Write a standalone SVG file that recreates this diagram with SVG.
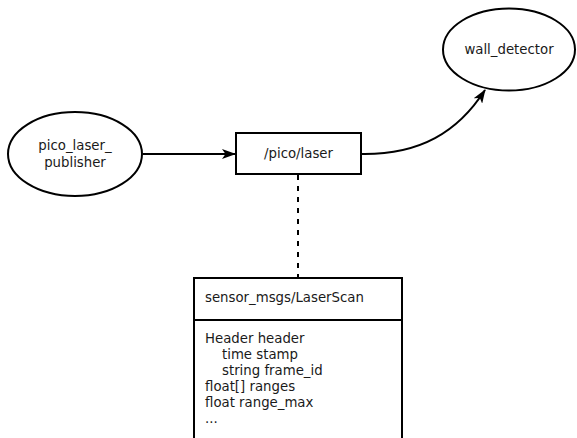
<svg xmlns="http://www.w3.org/2000/svg" width="577" height="438" viewBox="0 0 577 438">
<defs>
<style>
.s{fill:#fff;stroke:#000;stroke-width:2}
.t{font-family:"DejaVu Sans",sans-serif;font-size:13.3px;fill:#1a1a1a}
.c{stroke:#000;stroke-width:2;fill:none}
</style>
<marker id="ah" viewBox="0 0 14 10" refX="13" refY="5" markerWidth="14" markerHeight="10" markerUnits="userSpaceOnUse" orient="auto">
<path d="M0,0 L14,5 L0,10 L3.5,5 z" fill="#000"/>
</marker>
</defs>
<g id="connectors">
<line class="c" x1="143" y1="154" x2="235" y2="154" marker-end="url(#ah)"/>
<path class="c" d="M361,154 C420,155 458,132 485,90" marker-end="url(#ah)"/>
<line class="c" x1="298" y1="175" x2="298" y2="278" stroke-dasharray="5 6"/>
</g>
<g id="pico_laser_publisher">
<ellipse class="s" cx="75" cy="154" rx="67" ry="42"/>
<text class="t" x="75" y="150" text-anchor="middle">pico_laser_</text>
<text class="t" x="75" y="167" text-anchor="middle">publisher</text>
</g>
<g id="pico_laser">
<rect class="s" x="236" y="133" width="125" height="41"/>
<text class="t" x="298.5" y="158" text-anchor="middle">/pico/laser</text>
</g>
<g id="wall_detector">
<ellipse class="s" cx="509" cy="49.5" rx="66" ry="41"/>
<text class="t" x="509" y="54" text-anchor="middle">wall_detector</text>
</g>
<g id="laserscan">
<rect class="s" x="194" y="278" width="208" height="170"/>
<line class="c" x1="194" y1="320" x2="402" y2="320"/>
<text class="t" x="205" y="302">sensor_msgs/LaserScan</text>
<text class="t" x="205" y="343">Header header</text>
<text class="t" x="222" y="359">time stamp</text>
<text class="t" x="222" y="375">string frame_id</text>
<text class="t" x="205" y="391">float[] ranges</text>
<text class="t" x="205" y="407">float range_max</text>
<text class="t" x="205" y="423">...</text>
</g>
</svg>
